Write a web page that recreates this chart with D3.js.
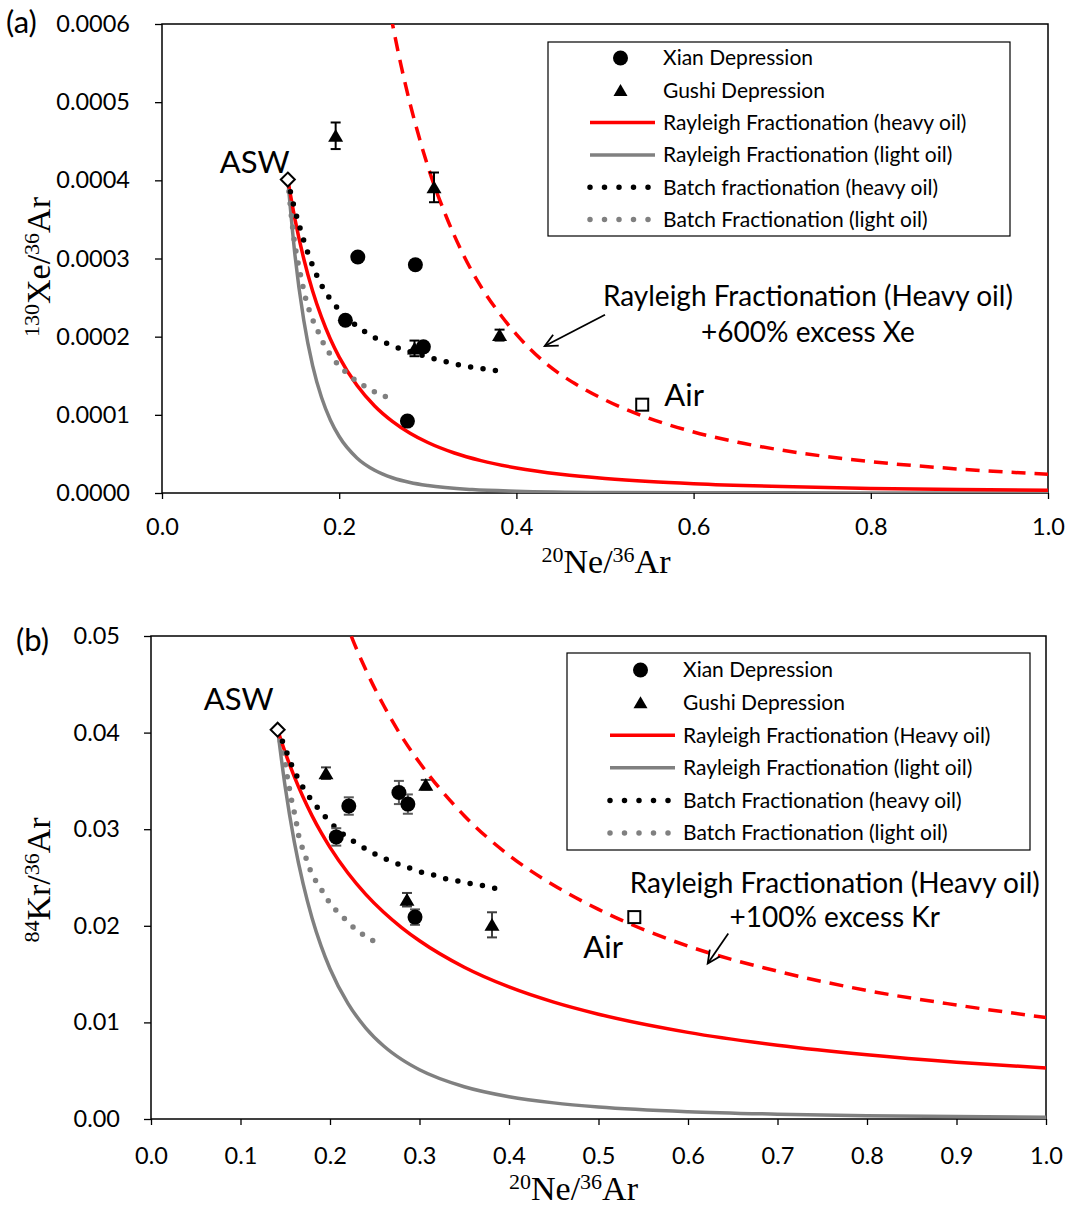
<!DOCTYPE html>
<html><head><meta charset="utf-8">
<script src="https://cdn.jsdelivr.net/npm/d3@7"></script>
<style>body{margin:0;background:#fff}</style>
</head><body>
<svg id="chart" width="1069" height="1207"></svg>
<script>
// ================= DATA =================
// Panel (a): 130Xe/36Ar vs 20Ne/36Ar
const xTicksA = [0, 0.2, 0.4, 0.6, 0.8, 1.0];
const yTicksA = [0, 0.0001, 0.0002, 0.0003, 0.0004, 0.0005, 0.0006];
const xianA  = [[0.221,0.000302,0.000005],[0.286,0.000292,0.000006],[0.207,0.000221,0.000004],[0.295,0.000187,0.000005],[0.277,0.000092,0.000005]];
const gushiA = [[0.196,0.000457,0.000017],[0.307,0.000391,0.000019],[0.381,0.000202,0.000007],[0.285,0.000185,0.000010]];
const aswA = [[0.142,0.000401]];
const airA = [[0.542,0.000113]];
const rayHeavyA = [[0.142,0.000401],[0.15,0.0003508],[0.16,0.0002997],[0.17,0.0002584],[0.18,0.0002249],[0.19,0.000197],[0.20,0.0001739],[0.22,0.0001378],[0.24,0.0001114],[0.26,0.0000917],[0.28,0.0000765],[0.30,0.0000646],[0.33,0.0000512],[0.36,0.0000414],[0.40,0.000032],[0.45,0.000024],[0.50,0.0000186],[0.55,0.0000147],[0.60,0.0000119],[0.70,0.0000082],[0.80,0.0000059],[0.90,0.0000044],[1.00,0.0000034]];
const rayLightA = [[0.142,0.000401],[0.15,0.000305],[0.16,0.000221],[0.17,0.000163],[0.18,0.0001225],[0.19,0.0000935],[0.20,0.0000723],[0.22,0.0000449],[0.24,0.0000291],[0.26,0.0000195],[0.28,0.0000134],[0.30,0.0000095],[0.35,0.0000044],[0.40,0.0000023],[0.50,0.0000007],[0.60,0.0000003],[0.80,0.0000001],[1.00,0.0000000]];
const rayHeavyXsA = [[0.258,0.000612],[0.27,0.000546],[0.28,0.000498],[0.29,0.000456],[0.30,0.000418],[0.32,0.000356],[0.34,0.000305],[0.36,0.000264],[0.38,0.000231],[0.40,0.000203],[0.433,0.000166],[0.47,0.0001373],[0.50,0.0001191],[0.55,0.0000955],[0.60,0.0000781],[0.65,0.0000649],[0.70,0.0000547],[0.80,0.0000402],[0.90,0.0000306],[1.00,0.000024]];
const batchHeavyA = [[0.142,0.000401],[0.145,0.000385],[0.150,0.000362],[0.155,0.000342],[0.160,0.000323],[0.165,0.000306],[0.170,0.000291],[0.176,0.000275],[0.183,0.00026],[0.192,0.000245],[0.201,0.000233],[0.212,0.000221],[0.223,0.000211],[0.235,0.000202],[0.247,0.000195],[0.261,0.000188],[0.276,0.000182],[0.291,0.000177],[0.306,0.000172],[0.320,0.000168],[0.335,0.000164],[0.349,0.000161],[0.363,0.000159],[0.380,0.000156]];
const batchLightA = [[0.142,0.000401],[0.146,0.000355],[0.149,0.000325],[0.152,0.000304],[0.155,0.000286],[0.158,0.00027],[0.161,0.000254],[0.165,0.000238],[0.170,0.000222],[0.176,0.000207],[0.182,0.000192],[0.190,0.000177],[0.199,0.000164],[0.209,0.000153],[0.221,0.000142],[0.233,0.000134],[0.246,0.000126],[0.260,0.000121]];

// Panel (b): 84Kr/36Ar vs 20Ne/36Ar
const xTicksB = [0, 0.1, 0.2, 0.3, 0.4, 0.5, 0.6, 0.7, 0.8, 0.9, 1.0];
const yTicksB = [0, 0.01, 0.02, 0.03, 0.04, 0.05];
const xianB  = [[0.221,0.0324,0.0009],[0.277,0.0338,0.0012],[0.287,0.0326,0.0010],[0.207,0.0292,0.0009],[0.295,0.0209,0.0008]];
const gushiB = [[0.1955,0.0358,0.0006],[0.307,0.0346,0.0005],[0.286,0.0227,0.0007],[0.381,0.0201,0.0013]];
const aswB = [[0.1415,0.0403]];
const airB = [[0.540,0.0209]];
const rayHeavyB = [[0.1415,0.0403],[0.15,0.03793],[0.16,0.03547],[0.17,0.0333],[0.18,0.03138],[0.19,0.02966],[0.20,0.02812],[0.22,0.02547],[0.24,0.02326],[0.26,0.0214],[0.28,0.01982],[0.30,0.01845],[0.35,0.01571],[0.40,0.01367],[0.45,0.0121],[0.50,0.01085],[0.60,0.00897],[0.70,0.00764],[0.80,0.00665],[0.90,0.00588],[1.00,0.00527]];
const rayHeavyXsB = [[0.215,0.0522],[0.22,0.0509],[0.24,0.0465],[0.26,0.0428],[0.28,0.0396],[0.30,0.0369],[0.35,0.0314],[0.40,0.0273],[0.45,0.0242],[0.50,0.0217],[0.60,0.0179],[0.70,0.0153],[0.80,0.0133],[0.90,0.0118],[1.00,0.0105]];
const rayLightB = [[0.1415,0.0403],[0.15,0.03433],[0.16,0.02874],[0.17,0.02433],[0.18,0.02079],[0.19,0.01792],[0.20,0.01556],[0.22,0.01197],[0.24,0.00942],[0.26,0.00756],[0.28,0.00617],[0.30,0.0051],[0.35,0.00334],[0.40,0.00231],[0.45,0.00167],[0.50,0.00125],[0.60,0.00076],[0.70,0.0005],[0.80,0.00034],[0.90,0.00025],[1.00,0.00019]];
const batchHeavyB = [[0.1415,0.0403],[0.1478,0.0389],[0.1527,0.0377],[0.1583,0.0364],[0.1646,0.0352],[0.1713,0.0341],[0.1795,0.0330],[0.1881,0.0320],[0.1974,0.0310],[0.2082,0.0300],[0.2186,0.0292],[0.2305,0.0285],[0.2428,0.0278],[0.2551,0.0272],[0.2678,0.0267],[0.2913,0.0259],[0.3043,0.0255],[0.3181,0.0252],[0.3322,0.0248],[0.346,0.0246],[0.3602,0.0243],[0.3743,0.0241],[0.3881,0.0238]];
const batchLightB = [[0.1415,0.0403],[0.1458,0.0386],[0.1497,0.0370],[0.1523,0.0354],[0.1553,0.0339],[0.1583,0.0324],[0.1617,0.0311],[0.1639,0.0298],[0.1676,0.0285],[0.1721,0.0273],[0.1769,0.0260],[0.1832,0.0248],[0.1907,0.0237],[0.1981,0.0226],[0.2067,0.0216],[0.2168,0.0207],[0.2279,0.0197],[0.2399,0.0189],[0.2514,0.0183]];

const legendLabelsA = ["Xian Depression","Gushi Depression","Rayleigh Fractionation (heavy oil)","Rayleigh Fractionation (light oil)","Batch fractionation (heavy oil)","Batch Fractionation (light oil)"];
const legendLabelsB = ["Xian Depression","Gushi Depression","Rayleigh Fractionation (Heavy oil)","Rayleigh Fractionation (light oil)","Batch Fractionation (heavy oil)","Batch Fractionation (light oil)"];

// ================= DRAWING =================
const svg = d3.select("#chart");
const SANS = "Lato, 'Open Sans', sans-serif";
const SERIF = "'Liberation Serif', 'Times New Roman', serif";
const RED = "#ff0000", GREY = "#808080";

function tri(s){ return `M0,${-s*0.9}L${s},${s*0.8}L${-s},${s*0.8}Z`; }

function drawPanel(cfg){
  const {x, y, id} = cfg;
  const g = svg.append("g");
  const [x0,x1] = x.range(), [y0,y1] = y.range();
  g.append("clipPath").attr("id","clip"+id).append("rect")
    .attr("x",x0).attr("y",y1).attr("width",x1-x0).attr("height",y0-y1);

  // axes
  const ax = g.append("g").attr("transform",`translate(0,${y0})`)
    .call(d3.axisBottom(x).tickValues(cfg.xTicks).tickSize(6).tickPadding(cfg.xPad).tickFormat(d3.format(".1f")));
  const ay = g.append("g").attr("transform",`translate(${x0},0)`)
    .call(d3.axisLeft(y).tickValues(cfg.yTicks).tickSize(7).tickPadding(cfg.yPad).tickFormat(d3.format(cfg.yFmt)));
  [ax,ay].forEach(a=>{
    a.select(".domain").remove();
    a.selectAll("line").attr("stroke","#000").attr("stroke-width",1.3);
    a.selectAll("text").attr("font-family",SANS).attr("font-size",23.5).attr("fill","#000");
  });
  g.append("rect").attr("x",x0).attr("y",y1).attr("width",x1-x0).attr("height",y0-y1)
    .attr("fill","none").attr("stroke","#000").attr("stroke-width",1.5);

  const plot = g.append("g").attr("clip-path",`url(#clip${id})`);
  const line = d3.line().x(d=>x(d[0])).y(d=>y(d[1])).curve(d3.curveMonotoneX);

  // ASW diamond (under curves)
  g.selectAll(null).data(cfg.asw).join("path")
    .attr("transform",d=>`translate(${x(d[0])},${y(d[1])})`)
    .attr("d","M0,-7L7,0L0,7L-7,0Z").attr("fill","#fff").attr("stroke","#000").attr("stroke-width",2);

  plot.append("path").datum(cfg.rayLight).attr("d",line).attr("fill","none").attr("stroke",GREY).attr("stroke-width",3.5);
  plot.append("path").datum(cfg.rayHeavy).attr("d",line).attr("fill","none").attr("stroke",RED).attr("stroke-width",3.5);
  plot.append("path").datum(cfg.rayHeavyXs).attr("d",line).attr("fill","none").attr("stroke",RED).attr("stroke-width",3.5).attr("stroke-dasharray","14,9");
  plot.append("path").datum(cfg.batchLight).attr("d",line).attr("fill","none").attr("stroke",GREY).attr("stroke-width",5.5).attr("stroke-linecap","round").attr("stroke-dasharray","0,12");
  plot.append("path").datum(cfg.batchHeavy).attr("d",line).attr("fill","none").attr("stroke","#000").attr("stroke-width",5.5).attr("stroke-linecap","round").attr("stroke-dasharray","0,12.5");

  // Air square
  g.selectAll(null).data(cfg.air).join("rect")
    .attr("x",d=>x(d[0])-6).attr("y",d=>y(d[1])-6).attr("width",12).attr("height",12)
    .attr("fill","#fff").attr("stroke","#000").attr("stroke-width",2);

  // error bars
  const eb = (data, col) => {
    const e = g.append("g").attr("stroke",col).attr("stroke-width",2);
    e.selectAll(null).data(data).join("line")
      .attr("x1",d=>x(d[0])).attr("x2",d=>x(d[0])).attr("y1",d=>y(d[1]-d[2])).attr("y2",d=>y(d[1]+d[2]));
    e.selectAll(null).data(data).join("line").attr("x1",d=>x(d[0])-5).attr("x2",d=>x(d[0])+5).attr("y1",d=>y(d[1]+d[2])).attr("y2",d=>y(d[1]+d[2]));
    e.selectAll(null).data(data).join("line").attr("x1",d=>x(d[0])-5).attr("x2",d=>x(d[0])+5).attr("y1",d=>y(d[1]-d[2])).attr("y2",d=>y(d[1]-d[2]));
  };
  eb(cfg.xian, "#595959");
  eb(cfg.gushi, cfg.gushiErrCol);

  g.selectAll(null).data(cfg.xian).join("circle")
    .attr("cx",d=>x(d[0])).attr("cy",d=>y(d[1])).attr("r",7.5).attr("fill","#000");
  g.selectAll(null).data(cfg.gushi).join("path")
    .attr("transform",d=>`translate(${x(d[0])},${y(d[1])})`).attr("d",tri(7.5)).attr("fill","#000");

  // legend
  const L = cfg.legend;
  g.append("rect").attr("x",L.x).attr("y",L.y).attr("width",L.w).attr("height",L.h)
    .attr("fill","#fff").attr("stroke","#000").attr("stroke-width",1.2);
  const lg = g.append("g");
  cfg.legendLabels.forEach((t,i)=>{
    const yy = L.row0 + i*L.dy;
    lg.append("text").attr("x",L.tx).attr("y",yy).attr("dy","0.35em").attr("font-family",SANS).attr("font-size",21).text(t);
    const a = L.lx0, b = L.lx1, c = (a+b)/2 - 2;
    if(i===0) lg.append("circle").attr("cx",c).attr("cy",yy).attr("r",7.5);
    if(i===1) lg.append("path").attr("transform",`translate(${c},${yy})`).attr("d",tri(7));
    if(i===2) lg.append("line").attr("x1",a).attr("x2",b).attr("y1",yy).attr("y2",yy).attr("stroke",RED).attr("stroke-width",3.5);
    if(i===3) lg.append("line").attr("x1",a).attr("x2",b).attr("y1",yy).attr("y2",yy).attr("stroke",GREY).attr("stroke-width",3.5);
    if(i===4) lg.append("line").attr("x1",a).attr("x2",b-4).attr("y1",yy).attr("y2",yy).attr("stroke","#000").attr("stroke-width",5.5).attr("stroke-linecap","round").attr("stroke-dasharray","0,14.5");
    if(i===5) lg.append("line").attr("x1",a).attr("x2",b-4).attr("y1",yy).attr("y2",yy).attr("stroke",GREY).attr("stroke-width",5.5).attr("stroke-linecap","round").attr("stroke-dasharray","0,14.5");
  });

  // annotations
  cfg.texts.forEach(t=>{
    g.append("text").attr("x",x(t.x)).attr("y",y(t.y)).attr("text-anchor",t.anchor)
      .attr("font-family",SANS).attr("font-size",t.size).attr("fill","#000").text(t.s);
  });
  // arrow
  const A = cfg.arrow;
  const ax1 = x(A[0][0]), ay1 = y(A[0][1]), ax2 = x(A[1][0]), ay2 = y(A[1][1]);
  const ang = Math.atan2(ay2-ay1, ax2-ax1), hl = 14, hw = 0.45;
  g.append("line").attr("x1",ax1).attr("y1",ay1).attr("x2",ax2).attr("y2",ay2).attr("stroke","#000").attr("stroke-width",1.8);
  g.append("path").attr("d",`M${ax2-hl*Math.cos(ang-hw)},${ay2-hl*Math.sin(ang-hw)}L${ax2},${ay2}L${ax2-hl*Math.cos(ang+hw)},${ay2-hl*Math.sin(ang+hw)}`)
    .attr("fill","none").attr("stroke","#000").attr("stroke-width",1.8);

  // panel label
  g.append("text").attr("x",cfg.tag[0]).attr("y",cfg.tag[1]).attr("font-family",SANS).attr("font-size",31).text(cfg.tagText);

  // axis titles
  const xt = g.append("text").attr("x",(x0+x1)/2 + cfg.xtOff[0]).attr("y",y0 + cfg.xtOff[1]).attr("text-anchor","middle")
    .attr("font-family",SERIF).attr("font-size",34);
  xt.append("tspan").attr("font-size",22).attr("dy",-11).text("20");
  xt.append("tspan").attr("dy",11).text("Ne/");
  xt.append("tspan").attr("font-size",22).attr("dy",-11).text("36");
  xt.append("tspan").attr("dy",11).text("Ar");

  const yt = g.append("text").attr("transform",`translate(${cfg.ytPos[0]},${cfg.ytPos[1]}) rotate(-90)`).attr("text-anchor","middle")
    .attr("font-family",SERIF).attr("font-size",34);
  yt.append("tspan").attr("font-size",22).attr("dy",-11).text(cfg.ytSup);
  yt.append("tspan").attr("dy",11).text(cfg.ytMain);
  yt.append("tspan").attr("font-size",22).attr("dy",-11).text("36");
  yt.append("tspan").attr("dy",11).text("Ar");
}

drawPanel({
  id:"a",
  x: d3.scaleLinear().domain([0,1]).range([162,1048]),
  y: d3.scaleLinear().domain([0,0.0006]).range([493,24]),
  xTicks: xTicksA, yTicks: yTicksA, yFmt: ".4f", xPad: 19, yPad: 25,
  xian: xianA, gushi: gushiA, gushiErrCol: "#000", asw: aswA, air: airA,
  rayHeavy: rayHeavyA, rayLight: rayLightA, rayHeavyXs: rayHeavyXsA, batchHeavy: batchHeavyA, batchLight: batchLightA,
  legendLabels: legendLabelsA,
  legend: {x:548, y:42, w:462, h:194, row0:58, dy:32.3, lx0:590, lx1:655, tx:663},
  texts: [
    {s:"ASW", x:0.144, y:0.000409, anchor:"end", size:31},
    {s:"Air", x:0.567, y:0.000111, anchor:"start", size:31},
    {s:"Rayleigh Fractionation (Heavy oil)", x:0.729, y:0.000239, anchor:"middle", size:28},
    {s:"+600% excess Xe", x:0.729, y:0.000193, anchor:"middle", size:28}
  ],
  arrow: [[0.500,0.000228],[0.432,0.000188]],
  tag:[6,33], tagText:"(a)",
  xtOff:[1,80], ytPos:[50,267], ytSup:"130", ytMain:"Xe/"
});

drawPanel({
  id:"b",
  x: d3.scaleLinear().domain([0,1]).range([151,1046]),
  y: d3.scaleLinear().domain([0,0.05]).range([1119,636]),
  xTicks: xTicksB, yTicks: yTicksB, yFmt: ".2f", xPad: 22, yPad: 24,
  xian: xianB, gushi: gushiB, gushiErrCol: "#404040", asw: aswB, air: airB,
  rayHeavy: rayHeavyB, rayLight: rayLightB, rayHeavyXs: rayHeavyXsB, batchHeavy: batchHeavyB, batchLight: batchLightB,
  legendLabels: legendLabelsB,
  legend: {x:567, y:653, w:463, h:197, row0:670, dy:32.6, lx0:610, lx1:675, tx:683},
  texts: [
    {s:"ASW", x:0.137, y:0.0423, anchor:"end", size:31},
    {s:"Air", x:0.483, y:0.0167, anchor:"start", size:31},
    {s:"Rayleigh Fractionation (Heavy oil)", x:0.764, y:0.0234, anchor:"middle", size:28},
    {s:"+100% excess Kr", x:0.764, y:0.0199, anchor:"middle", size:28}
  ],
  arrow: [[0.645,0.0192],[0.622,0.0161]],
  tag:[16,651], tagText:"(b)",
  xtOff:[-25,81], ytPos:[50,880], ytSup:"84", ytMain:"Kr/"
});
</script>
</body></html>
